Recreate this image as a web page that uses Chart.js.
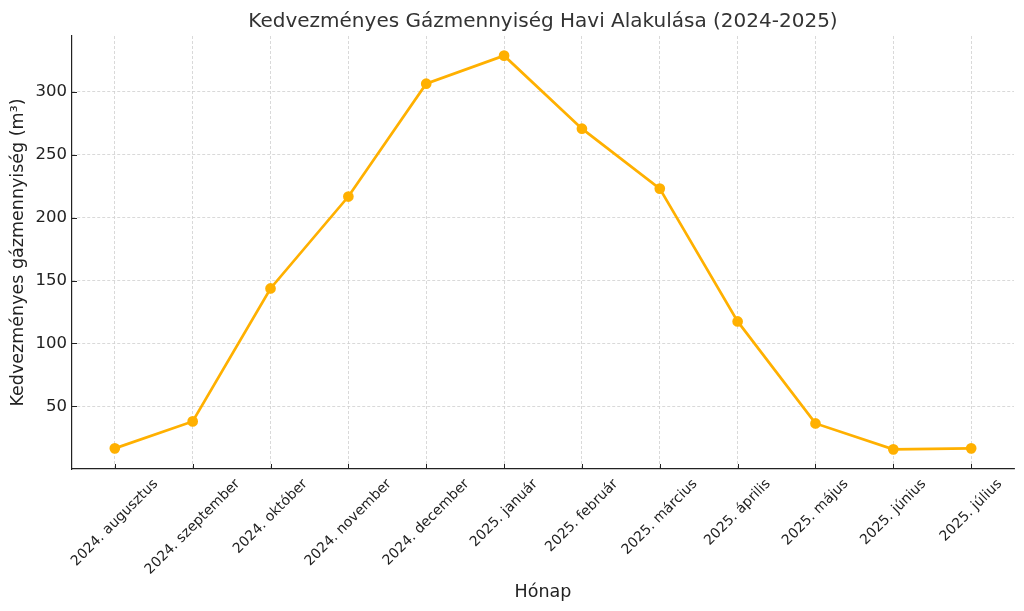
<!DOCTYPE html>
<html><head><meta charset="utf-8">
<script src="https://cdn.jsdelivr.net/npm/chart.js@4"></script>
<style>html,body{margin:0;padding:0;background:#fff}#wrap{width:1024px;height:611px}</style>
</head><body><div id="wrap"><canvas id="c"></canvas></div>
<script>
const months = ["2024. augusztus","2024. szeptember","2024. október","2024. november","2024. december","2025. január","2025. február","2025. március","2025. április","2025. május","2025. június","2025. július"];
const values = [16.7, 38.1, 143.7, 216.7, 306.3, 328.6, 270.6, 223.0, 117.5, 36.5, 15.9, 16.7];
const yTicks = [50, 100, 150, 200, 250, 300];

const FONT = "'DejaVu Sans', sans-serif";
const points = values.map((v, i) => ({x: i, y: v}));
const X_LABEL_SIZE = 14;

const inwardTicks = {
  id: 'inwardTicks',
  afterDraw(chart) {
    const ctx = chart.ctx, x = chart.scales.x, y = chart.scales.y, a = chart.chartArea;
    ctx.save(); ctx.strokeStyle = '#222'; ctx.lineWidth = 1;
    months.forEach((m, i) => { const px = Math.round(x.getPixelForValue(i)) + 0.5; ctx.beginPath(); ctx.moveTo(px, a.bottom); ctx.lineTo(px, a.bottom - 5); ctx.stroke(); });
    yTicks.forEach(t => { const py = Math.round(y.getPixelForValue(t)) + 0.5; ctx.beginPath(); ctx.moveTo(a.left, py); ctx.lineTo(a.left + 5, py); ctx.stroke(); });
    // rotated x labels, bounding box centred on tick (matplotlib style)
    ctx.fillStyle = '#222';
    ctx.font = X_LABEL_SIZE + "px " + FONT;
    ctx.textAlign = 'center'; ctx.textBaseline = 'middle';
    const h = X_LABEL_SIZE * 1.17;
    months.forEach((m, i) => {
      const px = x.getPixelForValue(i);
      const w = ctx.measureText(m).width;
      const bb = (w + h) * Math.SQRT1_2;
      const cy = a.bottom + 7 + bb / 2;
      ctx.save(); ctx.translate(px, cy); ctx.rotate(-Math.PI / 4); ctx.fillText(m, 0, 0); ctx.restore();
    });
    ctx.restore();
  }
};

new Chart(document.getElementById('c'), {
  type: 'line',
  data: { datasets: [{ data: points, borderColor: '#FFB000', backgroundColor: '#FFB000', borderWidth: 2.7, pointRadius: 4, pointHoverRadius: 4, tension: 0 }] },
  options: {
    responsive: true, maintainAspectRatio: false, animation: false,
    layout: { padding: { left: 6, right: 10, top: 0, bottom: 0 } },
    plugins: {
      legend: { display: false }, tooltip: { enabled: false },
      title: { display: true, fullSize: false, text: 'Kedvezményes Gázmennyiség Havi Alakulása (2024-2025)', color: '#333', font: { family: FONT, size: 20, weight: 'normal' }, padding: { top: 10, bottom: 2 } }
    },
    scales: {
      x: {
        type: 'linear', min: -0.55, max: 11.55,
        afterBuildTicks(s) { s.ticks = months.map((m, i) => ({ value: i })); },
        ticks: { display: false },
        grid: { color: '#cfcfcf', lineWidth: 0.8, drawTicks: false },
        border: { color: '#222', width: 1.2, dash: [3, 2] },
        title: { display: true, text: 'Hónap', color: '#222', font: { family: FONT, size: 17.5 }, padding: { top: 10, bottom: 8 } },
        afterFit(s) { s.height = 142; }
      },
      y: {
        min: 0.3, max: 344.2,
        afterBuildTicks(s) { s.ticks = yTicks.map(v => ({ value: v })); },
        ticks: { color: '#222', font: { family: FONT, size: 16.5 }, padding: 5 },
        grid: { color: '#cfcfcf', lineWidth: 0.8, drawTicks: false },
        border: { color: '#222', width: 1.2, dash: [3, 2] },
        title: { display: true, text: 'Kedvezményes gázmennyiség (m³)', color: '#222', font: { family: FONT, size: 17.5 }, padding: { top: 2, bottom: 6 } },
        afterFit(s) { s.width = 66; }
      }
    }
  },
  plugins: [inwardTicks]
});
</script></body></html>
